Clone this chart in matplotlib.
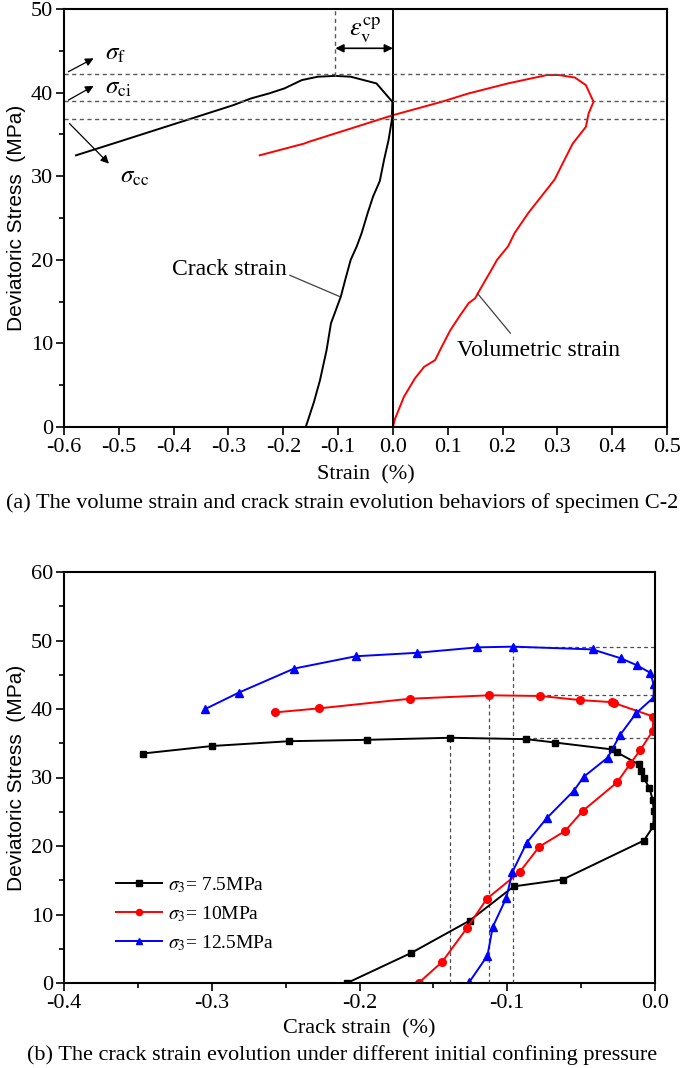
import matplotlib
matplotlib.use("Agg")
import matplotlib.pyplot as plt

plt.rcParams["font.family"] = ["Liberation Serif", "DejaVu Serif"]
plt.rcParams["mathtext.fontset"] = "stix"

# (a) curves of specimen C-2
crack_x = [-0.159, -0.144, -0.133, -0.121, -0.113, -0.095, -0.087, -0.077, -0.066,
           -0.057, -0.046, -0.036, -0.024, -0.016, -0.008, -0.002, -0.001, -0.030,
           -0.077, -0.105, -0.137, -0.166, -0.198, -0.226, -0.259, -0.291, -0.396,
           -0.501, -0.578]
crack_y = [0.0, 3.0, 5.6, 9.2, 12.4, 15.6, 17.6, 20.0, 21.6, 23.2, 25.6, 27.6, 29.4,
           32.0, 34.3, 36.7, 38.9, 41.1, 41.9, 42.0, 41.9, 41.5, 40.5, 39.9, 39.3,
           38.5, 36.3, 34.1, 32.5]
vol_x = [0.0, 0.004, 0.020, 0.040, 0.057, 0.077, 0.089, 0.105, 0.121, 0.138, 0.150,
         0.162, 0.178, 0.190, 0.210, 0.222, 0.247, 0.271, 0.295, 0.311, 0.328, 0.352,
         0.357, 0.366, 0.352, 0.332, 0.303, 0.281, 0.210, 0.138, 0.089, 0.0, -0.154,
         -0.162, -0.243]
vol_y = [0.0, 1.0, 3.6, 5.8, 7.2, 8.0, 9.6, 11.6, 13.2, 14.8, 15.4, 16.8, 18.6, 20.0,
         21.6, 23.2, 25.6, 27.6, 29.6, 31.7, 33.9, 35.9, 37.5, 38.9, 40.9, 41.8, 42.1,
         42.1, 41.1, 39.9, 38.9, 37.3, 34.1, 33.9, 32.5]
sigma_levels = [42.2, 39.0, 36.9]   # sigma_f, sigma_ci, sigma_cc
eps_peak = -0.105

# (b) crack strain under different confining pressure
labels_b = [r"$\sigma_3$= 7.5MPa", r"$\sigma_3$= 10MPa", r"$\sigma_3$= 12.5MPa"]
s75_x = [-0.2084, -0.1649, -0.1255, -0.0956, -0.0625, -0.0075, -0.0011, -0.0009,
         -0.0015, -0.0038, -0.0076, -0.0094, -0.0108, -0.026, -0.029, -0.0675,
         -0.087, -0.1386, -0.195, -0.2475, -0.2996, -0.3467]
s75_y = [0.0, 4.4, 9.1, 14.1, 15.1, 20.8, 22.9, 25.1, 26.7, 28.5, 29.9, 31.0, 31.9,
         33.7, 34.1, 35.1, 35.6, 35.8, 35.5, 35.3, 34.6, 33.5]
s10_x = [-0.160, -0.144, -0.127, -0.1138, -0.0916, -0.0783, -0.0608, -0.049, -0.0256,
         -0.0168, -0.0100, -0.0015, -0.0012, -0.0280, -0.0292, -0.0506, -0.0775,
         -0.1121, -0.1658, -0.2271, -0.2573]
s10_y = [0.0, 3.1, 8.1, 12.3, 16.2, 19.9, 22.2, 25.1, 29.3, 32.0, 34.0, 36.8, 38.9,
         40.9, 41.0, 41.3, 41.9, 42.0, 41.5, 40.1, 39.5]
s125_x = [-0.1258, -0.1134, -0.1098, -0.1007, -0.0965, -0.0868, -0.0731, -0.0548,
          -0.0483, -0.032, -0.0237, -0.0127, -0.0009, -0.0009, -0.0033, -0.0124,
          -0.0231, -0.0423, -0.0959, -0.1202, -0.1614, -0.2025, -0.2443, -0.2816,
          -0.3044]
s125_y = [0.1, 4.0, 8.2, 12.4, 16.2, 20.5, 24.1, 28.1, 30.1, 32.9, 36.2, 39.4, 41.7,
          43.6, 45.3, 46.4, 47.4, 48.7, 49.1, 49.0, 48.2, 47.7, 45.9, 42.4, 40.0]
peak_x = [-0.1386, -0.1125, -0.096]
peak_y = [35.8, 42.0, 49.1]
hline_start = [-0.087, -0.078, -0.096]

fig = plt.figure(figsize=(6.85, 10.68), dpi=100)


def style_axes(ax):
    for sp in ax.spines.values():
        sp.set_linewidth(1.5)
    ax.tick_params(which="both", direction="out", top=False, right=False,
                   width=1.2, labelsize=16, pad=2)
    ax.tick_params(which="major", length=6)
    ax.tick_params(which="minor", length=3.5)


# ---------- (a) ----------
ax1 = fig.add_axes([64 / 685, 1 - 427 / 1068, 603 / 685, 418 / 1068])
ax1.plot(crack_x, crack_y, color="black", lw=1.4)
ax1.plot(vol_x, vol_y, color="red", lw=1.4)
ax1.axvline(0, color="black", lw=1.4)
for lv in sigma_levels:
    ax1.axhline(lv, color="0.35", lw=1, ls=(0, (3, 2.5)))
ax1.plot([eps_peak, eps_peak], [crack_y[19], 50], color="0.35", lw=1, ls=(0, (3, 2.5)))
ax1.annotate("", xy=(eps_peak, 45.3), xytext=(0, 45.3),
             arrowprops=dict(arrowstyle="<|-|>", color="black", lw=1.2,
                             mutation_scale=12, shrinkA=0, shrinkB=0))
ax1.text(-0.05, 47.4, r"$\varepsilon_{\rm v}^{\rm cp}$", fontsize=19,
         ha="center", va="center")

arrow = dict(arrowstyle="-|>", color="black", lw=0.9, mutation_scale=12,
             shrinkA=0, shrinkB=0)
ax1.annotate("", xy=(-0.546, 44.1), xytext=(-0.592, 42.5), arrowprops=arrow)
ax1.text(-0.525, 44.6, r"$\sigma_{\rm f}$", fontsize=18, va="center")
ax1.annotate("", xy=(-0.546, 40.8), xytext=(-0.592, 39.1), arrowprops=arrow)
ax1.text(-0.525, 40.6, r"$\sigma_{\rm ci}$", fontsize=18, va="center")
ax1.annotate("", xy=(-0.518, 31.5), xytext=(-0.590, 36.3), arrowprops=arrow)
ax1.text(-0.497, 29.9, r"$\sigma_{\rm cc}$", fontsize=18, va="center")

ax1.annotate("Crack strain", xy=(-0.097, 15.6), xytext=(-0.298, 18.8),
             fontsize=17, ha="center", va="center",
             arrowprops=dict(arrowstyle="-", color="0.25", lw=0.9,
                             shrinkA=0, shrinkB=0, relpos=(1.0, 0.3)))
ax1.annotate("Volumetric strain", xy=(0.154, 16.0), xytext=(0.265, 9.2),
             fontsize=17, ha="center", va="center",
             arrowprops=dict(arrowstyle="-", color="0.25", lw=0.9,
                             shrinkA=0, shrinkB=0, relpos=(0.33, 1.3)))

ax1.set_xlim(-0.6, 0.5)
ax1.set_ylim(0, 50)
ax1.set_xticks([-0.6, -0.5, -0.4, -0.3, -0.2, -0.1, 0.0, 0.1, 0.2, 0.3, 0.4, 0.5])
ax1.set_xticklabels(["-0.6", "-0.5", "-0.4", "-0.3", "-0.2", "-0.1", "0.0",
                     "0.1", "0.2", "0.3", "0.4", "0.5"])
ax1.set_yticks([0, 10, 20, 30, 40, 50])
ax1.set_yticks([5, 15, 25, 35, 45], minor=True)
style_axes(ax1)
ax1.set_xlabel("Strain  (%)", fontsize=16)
ax1.xaxis.set_label_coords(0.5, -0.092)
ax1.set_ylabel("Deviatoric Stress  (MPa)", fontsize=15, family="Liberation Sans",
               labelpad=3)
fig.text(0.5, 1 - 503 / 1068,
         "(a) The volume strain and crack strain evolution behaviors of specimen C-2",
         ha="center", va="center", fontsize=16)

# ---------- (b) ----------
ax2 = fig.add_axes([64 / 685, 1 - 983 / 1068, 591 / 685, 411 / 1068])
for px, py, hs in zip(peak_x, peak_y, hline_start):
    ax2.plot([px, px], [0, py], color="0.3", lw=0.9, ls=(0, (3, 2.5)))
    ax2.plot([hs, 0], [py, py], color="0.3", lw=0.9, ls=(0, (3, 2.5)))
ax2.plot(s75_x, s75_y, color="black", marker="s", ms=5, lw=1.4, label=labels_b[0])
ax2.plot(s10_x, s10_y, color="red", marker="o", ms=5.5, lw=1.4, label=labels_b[1])
ax2.plot(s125_x, s125_y, color="blue", marker="^", ms=6, lw=1.4, label=labels_b[2])
ax2.set_xlim(-0.4, 0.0)
ax2.set_ylim(0, 60)
ax2.set_xticks([-0.4, -0.3, -0.2, -0.1, 0.0])
ax2.set_xticklabels(["-0.4", "-0.3", "-0.2", "-0.1", "0.0"])
ax2.set_xticks([-0.35, -0.25, -0.15, -0.05], minor=True)
ax2.set_yticks([0, 10, 20, 30, 40, 50, 60])
ax2.set_yticks([5, 15, 25, 35, 45, 55], minor=True)
style_axes(ax2)
ax2.set_xlabel("Crack strain  (%)", fontsize=16)
ax2.xaxis.set_label_coords(0.5, -0.088)
ax2.set_ylabel("Deviatoric Stress  (MPa)", fontsize=15, family="Liberation Sans",
               labelpad=3)
leg = ax2.legend(loc="upper left", bbox_to_anchor=(0.058, 0.305), frameon=False,
                 fontsize=14, handlelength=2.4, handletextpad=0.3,
                 labelspacing=0.47, markerscale=0.8)
fig.text(0.5, 1 - 1055 / 1068,
         "(b) The crack strain evolution under different initial confining pressure",
         ha="center", va="center", fontsize=16)

fig.savefig("out.png", dpi=100)
